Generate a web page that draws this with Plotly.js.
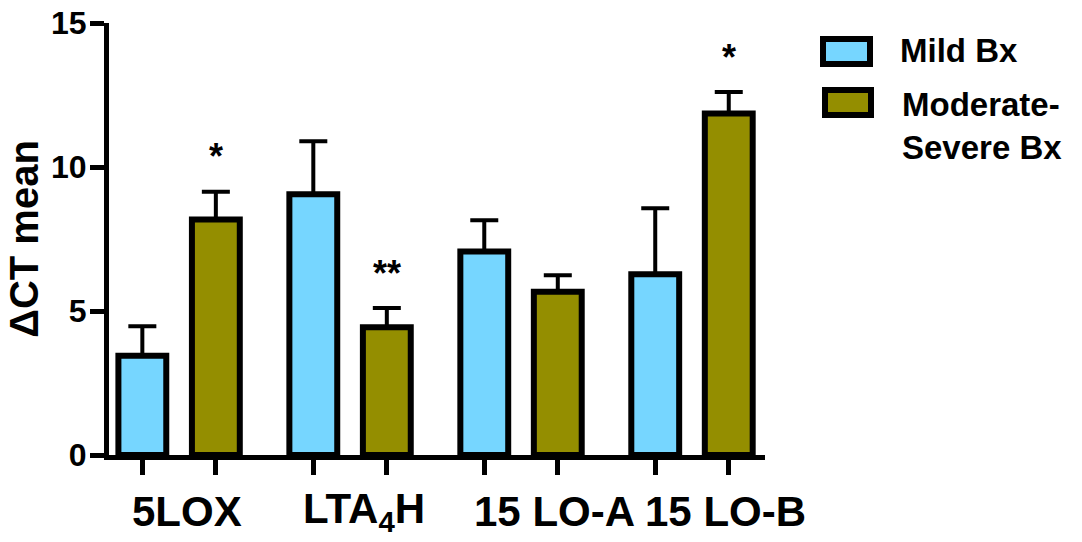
<!DOCTYPE html>
<html>
<head>
<meta charset="utf-8">
<script src="https://cdn.plot.ly/plotly-3.0.1.min.js"></script>
<style>html,body{margin:0;padding:0;background:#fff;}#chart{width:1082px;height:542px;}</style>
</head>
<body>
<div id="chart"></div>
<script>
// ---- data ----
const categories = ['5LOX', 'LTA<sub>4</sub>H', '15 LO-A', '15 LO-B'];
const mildMean = [3.45, 9.05, 7.07, 6.28];
const mildSEM  = [1.02, 1.84, 1.08, 2.29];
const modMean  = [8.18, 4.44, 5.67, 11.86];
const modSEM   = [0.96, 0.66, 0.57, 0.74];
const modSig   = ['*', '**', '', '*'];
const seriesNames  = ['Mild Bx', 'Moderate-<br>Severe Bx'];
const seriesColors = ['#76D6FF', '#948E00'];
const yTicks = [0, 5, 10, 15];

// ---- layout helpers ----
const FONT = 'Liberation Sans, Arial, sans-serif';
const L = 109, T = 23, W = 656, H = 432;
const BAR_W = 0.28, HALF_GAP = 0.215;
const idx = categories.map((_, i) => i);
const px = x => (x - L) / W;
const py = y => (T + H - y) / H;

function barTrace(name, means, sems, color, sign) {
  return {
    type: 'bar', name: name, x: idx, y: means,
    width: BAR_W, offset: sign * HALF_GAP - BAR_W / 2,
    marker: {color: color, line: {color: '#000', width: 6}},
    error_y: {type: 'data', array: sems, arrayminus: sems.map(() => 0), symmetric: false,
              color: '#000', thickness: 4, width: 14},
    showlegend: false, hoverinfo: 'skip'
  };
}

const data = [
  barTrace(seriesNames[0], mildMean, mildSEM, seriesColors[0], -1),
  barTrace(seriesNames[1], modMean, modSEM, seriesColors[1], 1)
];

const annotations = [];
modSig.forEach((s, i) => {
  if (!s) return;
  annotations.push({x: i + HALF_GAP, y: modMean[i] + modSEM[i], xref: 'x', yref: 'y',
    text: s, showarrow: false, yanchor: 'middle', yshift: 35,
    font: {family: FONT, size: 36, color: '#000', weight: 'bold'}});
});

// category labels: left-aligned a little inside the first bar of each pair
idx.forEach(i => {
  annotations.push({x: i - HALF_GAP - BAR_W / 2, y: 0, xref: 'x', yref: 'y',
    xanchor: 'left', yanchor: 'middle', xshift: 12, yshift: -56,
    text: categories[i], showarrow: false,
    font: {family: FONT, size: 42, color: '#000', weight: 'bold'}});
});

// legend built from series names/colours
const legendRects = [[823, 870, 39, 64], [825, 871, 90, 115]];
const legendText = [[898, 51], [900, 126]];
const shapes = [];
seriesNames.forEach((n, k) => {
  const r = legendRects[k];
  shapes.push({type: 'rect', xref: 'paper', yref: 'paper',
    x0: px(r[0]), x1: px(r[1]), y0: py(r[3]), y1: py(r[2]),
    fillcolor: seriesColors[k], line: {color: '#000', width: 6}});
  annotations.push({xref: 'paper', yref: 'paper', x: px(legendText[k][0]), y: py(legendText[k][1]),
    xanchor: 'left', yanchor: 'middle', align: 'left', text: n, showarrow: false,
    font: {family: FONT, size: 33, color: '#000', weight: 'bold'}});
});

const barCenters = [];
idx.forEach(i => { barCenters.push(i - HALF_GAP, i + HALF_GAP); });

const layout = {
  width: 1082, height: 542,
  margin: {l: L, t: T, r: 1082 - L - W, b: 542 - T - H, pad: 0},
  paper_bgcolor: '#fff', plot_bgcolor: '#fff',
  barmode: 'overlay',
  font: {family: FONT, color: '#000'},
  xaxis: {
    type: 'linear', range: [-0.41, 3.427], fixedrange: true,
    tickmode: 'array', tickvals: barCenters, showticklabels: false,
    ticks: 'outside', ticklen: 15, tickwidth: 5, tickcolor: '#000',
    showline: true, linecolor: '#000', linewidth: 5,
    showgrid: false, zeroline: false
  },
  yaxis: {
    range: [0, 15], fixedrange: true,
    tickmode: 'array', tickvals: yTicks, ticks: 'outside', ticklen: 14, tickwidth: 5, tickcolor: '#000',
    tickfont: {family: FONT, size: 32, color: '#000', weight: 'bold'},
    ticklabelstandoff: -3,
    showline: true, linecolor: '#000', linewidth: 5,
    showgrid: false, zeroline: false,
    title: {text: 'ΔCT mean', standoff: 2, font: {family: FONT, size: 40, color: '#000', weight: 'bold'}}
  },
  shapes: shapes,
  annotations: annotations
};

Plotly.newPlot('chart', data, layout, {staticPlot: true, displayModeBar: false});
</script>
</body>
</html>
